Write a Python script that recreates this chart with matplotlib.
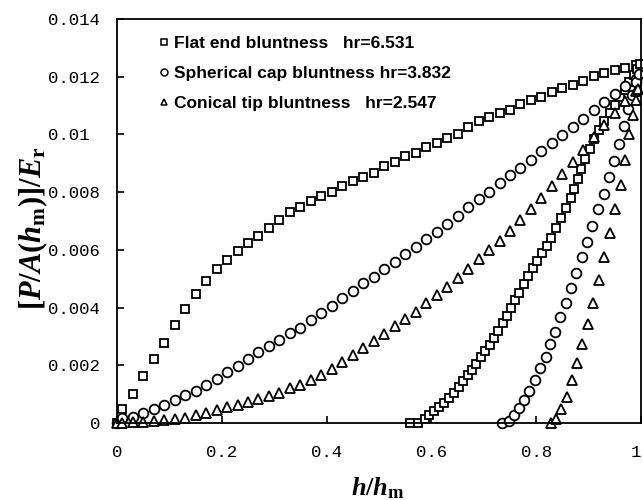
import numpy as np
import matplotlib
matplotlib.use("Agg")
import matplotlib.pyplot as plt
from matplotlib.lines import Line2D

# loading branch, h/hm (same grid for all three tips)
h_load = [0.0, 0.01, 0.03, 0.05, 0.07, 0.09, 0.11, 0.13, 0.15, 0.17, 0.19,
          0.21, 0.23, 0.25, 0.27, 0.29, 0.31, 0.33, 0.35, 0.37, 0.39,
          0.41, 0.43, 0.45, 0.47, 0.49, 0.51, 0.53, 0.55, 0.57, 0.59,
          0.61, 0.63, 0.65, 0.67, 0.69, 0.71, 0.73, 0.75, 0.77, 0.79,
          0.81, 0.83, 0.85, 0.87, 0.89, 0.91, 0.93, 0.95, 0.97, 0.99]

# [P/A(hm)]/Er on loading, x1e-3
flat_load = [0.0, 0.49, 1.01, 1.63, 2.22, 2.78, 3.40, 3.96, 4.48, 4.93, 5.35,
             5.66, 5.97, 6.25, 6.49, 6.77, 7.05, 7.30, 7.50, 7.71, 7.85,
             8.02, 8.23, 8.37, 8.54, 8.68, 8.89, 9.06, 9.24, 9.37, 9.55,
             9.69, 9.86, 10.02, 10.25, 10.45, 10.59, 10.73, 10.85, 11.04, 11.18,
             11.28, 11.46, 11.60, 11.70, 11.84, 12.01, 12.12, 12.22, 12.29, 12.40]
sph_load = [0.0, 0.17, 0.21, 0.35, 0.49, 0.63, 0.80, 0.97, 1.11, 1.32, 1.53,
            1.77, 1.98, 2.22, 2.47, 2.67, 2.88, 3.12, 3.30, 3.58, 3.82,
            4.06, 4.34, 4.58, 4.86, 5.07, 5.35, 5.59, 5.87, 6.11, 6.39,
            6.63, 6.88, 7.18, 7.47, 7.75, 8.02, 8.30, 8.58, 8.85, 9.13,
            9.41, 9.69, 9.97, 10.26, 10.55, 10.83, 11.12, 11.40, 11.67, 11.93]
con_load = [0.0, 0.00, 0.02, 0.04, 0.07, 0.10, 0.14, 0.18, 0.26, 0.35, 0.45,
            0.56, 0.64, 0.73, 0.83, 0.94, 1.05, 1.20, 1.33, 1.48, 1.66,
            1.87, 2.12, 2.36, 2.60, 2.84, 3.08, 3.35, 3.62, 3.86, 4.15,
            4.44, 4.72, 5.03, 5.35, 5.69, 5.99, 6.32, 6.67, 7.03, 7.42,
            7.81, 8.20, 8.62, 9.03, 9.45, 9.90, 10.33, 10.75, 11.15, 11.50]

# unloading branches
flat_unl_h = [0.560, 0.575, 0.587, 0.596, 0.605, 0.614, 0.624, 0.634, 0.643, 0.652,
              0.661, 0.669, 0.677, 0.686, 0.694, 0.703, 0.711, 0.719, 0.727, 0.736,
              0.744, 0.752, 0.760, 0.768, 0.777, 0.785, 0.794, 0.802, 0.811, 0.820,
              0.829, 0.838, 0.848, 0.857, 0.866, 0.872, 0.879, 0.886, 0.894, 0.902,
              0.910, 0.920, 0.930, 0.940, 0.950, 0.960, 0.969, 0.978, 0.986, 0.993, 0.998]
flat_unl = [0.00, 0.00, 0.14, 0.26, 0.40, 0.55, 0.70, 0.87, 1.05, 1.25,
            1.45, 1.65, 1.85, 2.05, 2.27, 2.50, 2.72, 2.95, 3.20, 3.45,
            3.70, 3.98, 4.25, 4.52, 4.80, 5.08, 5.36, 5.62, 5.88, 6.15,
            6.42, 6.75, 7.10, 7.45, 7.80, 8.10, 8.45, 8.80, 9.15, 9.50,
            9.85, 10.15, 10.45, 10.75, 11.02, 11.28, 11.55, 11.80, 12.05, 12.28, 12.45]
sph_unl_h = [0.735, 0.748, 0.757, 0.767, 0.777, 0.787, 0.797, 0.808, 0.818, 0.826,
             0.836, 0.846, 0.856, 0.866, 0.876, 0.887, 0.897, 0.907, 0.918, 0.929,
             0.939, 0.949, 0.958, 0.967, 0.976, 0.983, 0.990, 0.996]
sph_unl = [0.00, 0.08, 0.28, 0.52, 0.80, 1.11, 1.49, 1.90, 2.30, 2.74,
           3.16, 3.66, 4.17, 4.69, 5.21, 5.76, 6.28, 6.84, 7.40, 7.95,
           8.52, 9.08, 9.68, 10.28, 10.87, 11.35, 11.80, 12.10]
con_unl_h = [0.829, 0.838, 0.848, 0.858, 0.868, 0.878, 0.888, 0.899, 0.909, 0.919,
             0.930, 0.940, 0.951, 0.961, 0.970, 0.977, 0.984, 0.990, 0.995]
con_unl = [0.00, 0.14, 0.49, 0.90, 1.49, 2.08, 2.74, 3.44, 4.17, 4.97,
           5.76, 6.60, 7.43, 8.26, 9.13, 10.00, 10.69, 11.20, 11.56]

labels = ["Flat end bluntness   hr=6.531",
          "Spherical cap bluntness hr=3.832",
          "Conical tip bluntness   hr=2.547"]
markers = ["s", "o", "^"]

xticks = [0, 0.2, 0.4, 0.6, 0.8, 1.0]
xticklabels = ["0", "0.2", "0.4", "0.6", "0.8", "1"]
yticks = [0, 0.002, 0.004, 0.006, 0.008, 0.01, 0.012, 0.014]
yticklabels = ["0", "0.002", "0.004", "0.006", "0.008", "0.01 ", "0.012", "0.014"]

plt.rcParams['mathtext.fontset'] = 'custom'
plt.rcParams['mathtext.it'] = 'Liberation Serif:italic:bold'
plt.rcParams['mathtext.rm'] = 'Liberation Serif:bold'

fig = plt.figure(figsize=(6.43, 5.0), dpi=100)
ax = fig.add_axes([117/643, 77/500, 524/643, 404/500])

series = [(h_load, flat_load, flat_unl_h, flat_unl),
          (h_load, sph_load, sph_unl_h, sph_unl),
          (h_load, con_load, con_unl_h, con_unl)]
sizes = [6.2, 7.0, 6.5]

for (hl, yl, hu, yu), m, ms in zip(series, markers, sizes):
    for xs, ys in [(hl, yl), (hu, yu)]:
        ax.plot(xs, np.array(ys) * 1e-3, linestyle='none', marker=m, ms=ms,
                mfc='white', mec='black', mew=1.3, clip_on=False)

ax.set_xlim(0, 1)
ax.set_ylim(0, 0.014)
ax.set_xticks(xticks)
ax.set_xticklabels(xticklabels)
ax.set_yticks(yticks)
ax.set_yticklabels(yticklabels)
ax.tick_params(direction='in', length=5, width=1.2, top=False, right=False)
ax.tick_params(axis='y', pad=12)
ax.tick_params(axis='x', pad=16)
for lab in ax.get_xticklabels() + ax.get_yticklabels():
    lab.set_fontfamily('Liberation Mono')
    lab.set_fontsize(12.5)
ax.get_xticklabels()[-1].set_ha('right')  # keep the "1" inside the canvas
for sp in ax.spines.values():
    sp.set_linewidth(1.3)

handles = [Line2D([], [], linestyle='none', marker=m, ms=5, mfc='white',
                  mec='black', mew=1.1) for m in markers]
leg = ax.legend(handles, labels, loc='upper left', frameon=False,
                bbox_to_anchor=(159/643, 464/500), bbox_transform=fig.transFigure,
                borderaxespad=0, borderpad=0, handlelength=0.6,
                handletextpad=0.25, labelspacing=0.86,
                prop={'family': 'Liberation Sans', 'weight': 'bold', 'size': 12.5})

fig.text(33/643, 1 - 228/500, r'$[P/A(h_{\rm m})]/E_{\rm r}$', rotation=90,
         ha='center', va='center', fontsize=22)
fig.text(378/643, 1 - 488/500, r'$h/h_{\rm m}$', ha='center', va='center',
         fontsize=19)

fig.savefig("out.png", dpi=100)
